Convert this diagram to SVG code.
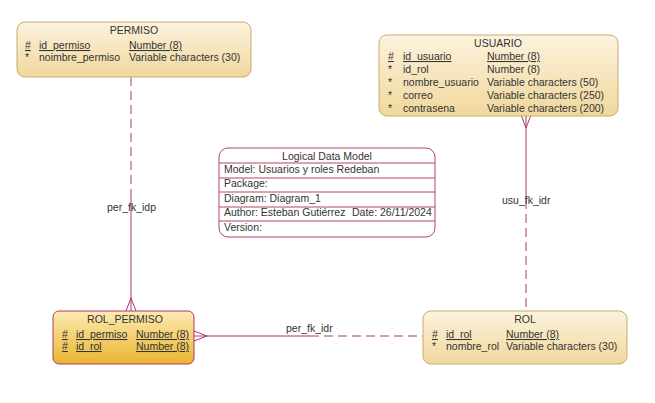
<svg xmlns="http://www.w3.org/2000/svg" width="655" height="403" viewBox="0 0 655 403">
<defs>
<linearGradient id="gEnt" x1="0" y1="0" x2="0" y2="1">
<stop offset="0" stop-color="#fcf3de"/>
<stop offset="1" stop-color="#f0d79c"/>
</linearGradient>
<linearGradient id="gSel" x1="0" y1="0" x2="0" y2="1">
<stop offset="0" stop-color="#fdebb3"/>
<stop offset="1" stop-color="#e9b52e"/>
</linearGradient>
</defs>
<style>
text{font-family:"Liberation Sans",Arial,sans-serif;font-size:10.5px;fill:#333333}
.ent{fill:url(#gEnt);stroke:#c9ab6f;stroke-width:1}
.sel{fill:url(#gSel);stroke:#a8386f;stroke-width:1}
.u{text-decoration:underline}
.c{stroke:#ad3572;stroke-width:1;fill:none}
.d{stroke-dasharray:9,5}
.info{fill:#ffffff;stroke:#b5475a;stroke-width:1}
.sep{stroke:#b5475a;stroke-width:1}
</style>
<rect width="655" height="403" fill="#ffffff"/>
<g id="connectors">
<line class="c d" x1="131" y1="77" x2="131" y2="196"/>
<line class="c" x1="131" y1="196" x2="131" y2="311"/>
<polyline class="c" points="126,311 131,298 136,311"/>
<text x="107" y="211">per_fk_idp</text>
<line class="c" x1="526" y1="115" x2="526" y2="200"/>
<line class="c d" x1="526" y1="200" x2="526" y2="311"/>
<polyline class="c" points="521,115 526,128 531,115"/>
<text x="502" y="204">usu_fk_idr</text>
<line class="c" x1="194" y1="336" x2="310" y2="336"/>
<line class="c d" x1="310" y1="336" x2="423" y2="336"/>
<polyline class="c" points="194,331 207,336 194,341"/>
<text x="286" y="332">per_fk_idr</text>
</g>
<g id="PERMISO">
<rect class="ent" x="17" y="22" width="234" height="55" rx="8"/>
<text x="134" y="34" text-anchor="middle">PERMISO</text>
<text x="25" y="49" class="u">#</text>
<text x="39" y="49" class="u">id_permiso</text>
<text x="129" y="49" class="u">Number (8)</text>
<text x="25" y="61">*</text>
<text x="39" y="61">noimbre_permiso</text>
<text x="129" y="61">Variable characters (30)</text>
</g>
<g id="USUARIO">
<rect class="ent" x="379" y="35" width="239" height="81" rx="8"/>
<text x="498" y="47" text-anchor="middle">USUARIO</text>
<text x="388" y="60" class="u">#</text>
<text x="403" y="60" class="u">id_usuario</text>
<text x="487" y="60" class="u">Number (8)</text>
<text x="388" y="73">*</text>
<text x="403" y="73">id_rol</text>
<text x="487" y="73">Number (8)</text>
<text x="388" y="86">*</text>
<text x="403" y="86">nombre_usuario</text>
<text x="487" y="86">Variable characters (50)</text>
<text x="388" y="99">*</text>
<text x="403" y="99">correo</text>
<text x="487" y="99">Variable characters (250)</text>
<text x="388" y="112">*</text>
<text x="403" y="112">contrasena</text>
<text x="487" y="112">Variable characters (200)</text>
</g>
<g id="info">
<rect class="info" x="219" y="148" width="216" height="89" rx="9"/>
<text x="327" y="160" text-anchor="middle">Logical Data Model</text>
<line class="sep" x1="219" y1="163" x2="435" y2="163"/>
<text x="224" y="173">Model: Usuarios y roles Redeban</text>
<line class="sep" x1="219" y1="178" x2="435" y2="178"/>
<text x="224" y="187">Package:</text>
<line class="sep" x1="219" y1="192" x2="435" y2="192"/>
<text x="224" y="202">Diagram: Diagram_1</text>
<line class="sep" x1="219" y1="207" x2="435" y2="207"/>
<text x="224" y="216">Author: Esteban Gutiérrez</text>
<text x="352" y="216">Date: 26/11/2024</text>
<line class="sep" x1="219" y1="221" x2="435" y2="221"/>
<text x="224" y="231">Version:</text>
</g>
<g id="ROL_PERMISO">
<rect class="sel" x="53" y="311" width="141" height="53" rx="6"/>
<text x="125" y="323" text-anchor="middle">ROL_PERMISO</text>
<text x="62" y="338" class="u">#</text>
<text x="76" y="338" class="u">id_permiso</text>
<text x="136" y="338" class="u">Number (8)</text>
<text x="62" y="350" class="u">#</text>
<text x="76" y="350" class="u">id_rol</text>
<text x="136" y="350" class="u">Number (8)</text>
</g>
<g id="ROL">
<rect class="ent" x="423" y="311" width="204" height="53" rx="8"/>
<text x="525" y="323" text-anchor="middle">ROL</text>
<text x="432" y="338" class="u">#</text>
<text x="446" y="338" class="u">id_rol</text>
<text x="506" y="338" class="u">Number (8)</text>
<text x="432" y="350">*</text>
<text x="446" y="350">nombre_rol</text>
<text x="506" y="350">Variable characters (30)</text>
</g>
</svg>
